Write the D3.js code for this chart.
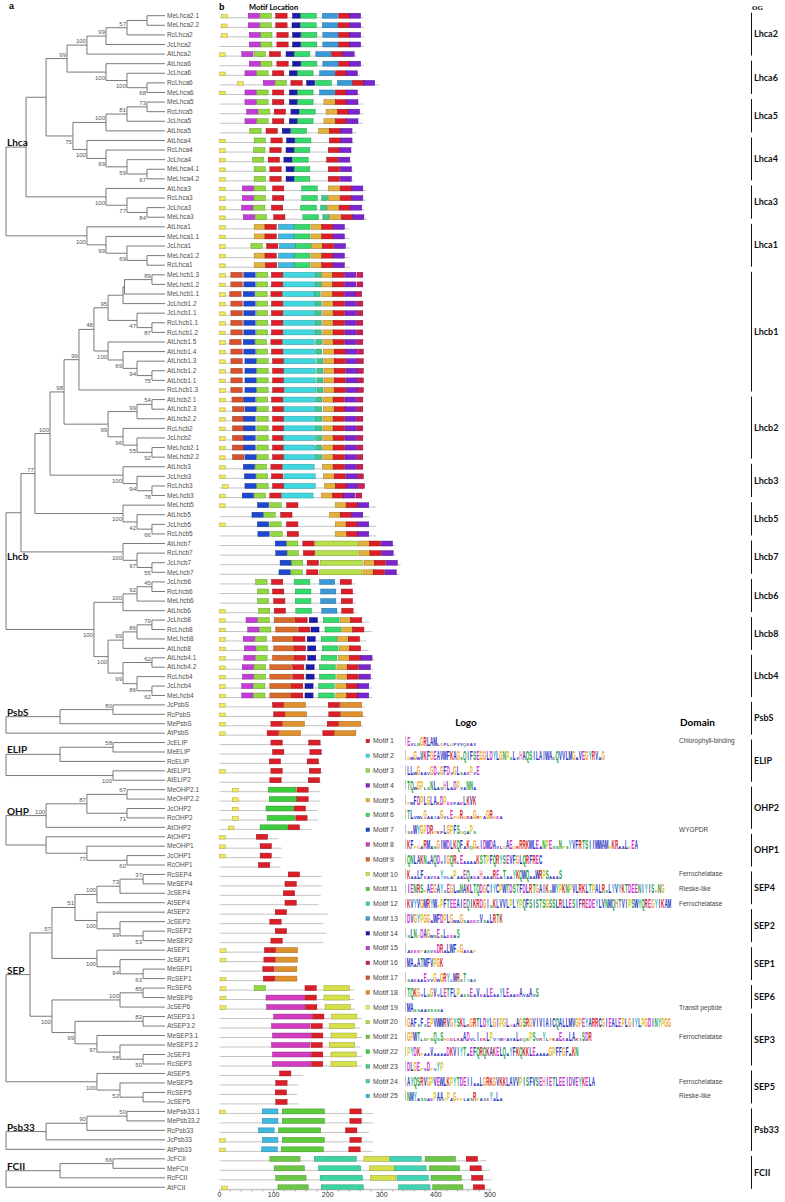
<!DOCTYPE html>
<html><head><meta charset="utf-8">
<script src="https://cdn.jsdelivr.net/npm/d3@7"></script>
<style>body{margin:0;background:#fff}svg{display:block;background:#fff}</style>
</head><body><svg id="c" width="785" height="1202"></svg>
<script>
// ---------------- DATA ----------------
// Tree clades: "(children)bootstrap:depth" where depth is on a 0-100 scale (tips = 100)
const SEP4 = "(((RcSEP4,MeSEP4)37:86.2,JcSEP4)73:71.7,AtSEP4)100:57.2";
const SEP2 = "(AtSEP2,(JcSEP2,(RcSEP2,MeSEP2)53:86.2)99:71.7)100:57.2";
const SEP1 = "(AtSEP1,(JcSEP1,(MeSEP1,RcSEP1)63:86.2)94:71.7)100:57.2";
const SEP6 = "((RcSEP6,MeSEP6)85:86.2,JcSEP6)100:71.7";
const SEP3 = "((AtSEP3.1,AtSEP3.2)82:86.2,(MeSEP3.1,(MeSEP3.2,(JcSEP3,RcSEP3)50:86.2)58:71.7)97:57.2)99:43.4";
const SEP5 = "(AtSEP5,(MeSEP5,(RcSEP5,JcSEP5):86.2)52:71.7)100:57.2";
const LHCB1a = "(((MeLhcb1.3,MeLhcb1.2)89:91.8,MeLhcb1.1):74.5,JcLhcb1.2):73.6";
const LHCB1d = "(JcLhcb1.1,(RcLhcb1.1,RcLhcb1.2)87:91.8)47:82.4";
const LHCB1g = "(AtLhcb1.5,(AtLhcb1.4,(AtLhcb1.3,(AtLhcb1.2,AtLhcb1.1)75:91.8)94:82.4)69:73.6)100:64.2";
const LHCB2 = "(((AtLhcb2.1,AtLhcb2.3)54:91.8,AtLhcb2.2)99:82.4,(RcLhcb2,(JcLhcb2,(MeLhcb2.1,MeLhcb2.2)92:91.8)55:82.4)96:73.6)99:64.2";
const LHCB3 = "(AtLhcb3,(JcLhcb3,(RcLhcb3,MeLhcb3)78:91.8)94:82.4)100:73.6";
const LHCB5 = "(MeLhcb5,(AtLhcb5,(JcLhcb5,RcLhcb5)66:91.8)42:82.4)100:73.6";
const LHCB7 = "(AtLhcb7,(RcLhcb7,(JcLhcb7,MeLhcb7)55:91.8)97:82.4)100:73.6";
const LHCB6 = "(((JcLhcb6,RcLhcb6)45:91.8,MeLhcb6)92:82.4,AtLhcb6)100:73.6";
const LHCB8 = "(((JcLhcb8,RcLhcb8)79:91.8,MeLhcb8)86:82.4,AtLhcb8)99:73.6";
const LHCB4 = "((AtLhcb4.1,AtLhcb4.2)62:91.8,(RcLhcb4,(JcLhcb4,MeLhcb4)62:91.8)86:82.4)99:73.6";

const familyNames = ["Lhca","Lhcb","PsbS","ELIP","OHP","SEP","Psb33","FCII"];
const familyTrees = [
  "((((((((MeLhca2.1,MeLhca2.2):88.7,RcLhca2)57:76.1,JcLhca2)99:62.9,AtLhca2)100:50.9,(AtLhca6,(JcLhca6,(RcLhca6,MeLhca6)68:88.7)100:76.1)100:62.9)99:38.4,((((MeLhca5,RcLhca5)73:88.7,JcLhca5)81:76.1,AtLhca5)100:62.9,(AtLhca4,(RcLhca4,(JcLhca4,(MeLhca4.1,MeLhca4.2)67:88.7)59:76.1)69:62.9)100:50.9)75:42.1):25.2,(AtLhca3,(RcLhca3,(JcLhca3,MeLhca3)84:88.7)77:76.1)100:62.9):12.6,(AtLhca1,(MeLhca1.1,(JcLhca1,(MeLhca1.2,RcLhca1):88.7)69:76.1)99:62.9)100:50.9):0",
  `((((((((${LHCB1a},${LHCB1d})95:64.2,${LHCB1g})48:55.3,RcLhcb1.3)99:45.9,${LHCB2})98:36.5,${LHCB3})100:27.7,${LHCB5})77:18.2,${LHCB7}):9.4,(${LHCB6},(${LHCB8},${LHCB4})100:64.2)100:55.3):0`,
  "(((JcPsbS,RcPsbS)80:67.3,MePsbS):34,AtPsbS):0",
  "(((JcELIP,MeELIP)58:67.3,RcELIP):34,(AtELIP1,AtELIP2)100:67.3):0",
  "((((MeOHP2.1,MeOHP2.2)67:76.1,(JcOHP2,RcOHP2)71:76.1)87:50.9,AtOHP2)100:25.2,(AtOHP1,(MeOHP1,(JcOHP1,RcOHP1)60:76.1)77:50.9):25.2):0",
  `((((${SEP4},${SEP2})51:43.4,${SEP1})57:28.9,(${SEP6},${SEP3})100:28.9):15.1,${SEP5}):0`,
  "((((MePsb33.1,MePsb33.2)50:76.1,RcPsb33)90:50.9,JcPsb33):25.2,AtPsb33):0",
  "(((JcFCII,MeFCII)66:67.3,RcFCII):34,AtFCII):0"
];
// family label anchor: path of child indices from root, and side
const familyLabelPath = [[0],[0,1],[0],[0],[0],[0],[0],[0]];
const familyLabelSide = ["above","below","above","above","above","above","above","above"];

// motifs
const motifIds = d3.range(1, 26);
const motifLengths = [21,58,21,21,21,29,21,71,40,47,78,78,28,15,21,11,21,40,11,78,56,51,11,58,29];
const motifColors = ["#dc1e28","#40d8e0","#92d843","#7a25d0","#e3b23c","#36d96b","#1f48d0","#d23cc0","#d86a2a","#d6e04a","#5ccc3c","#3cd4a0","#3a9ad8","#1c1caa","#c43cd8","#c81e5a","#d8502c","#e0902c","#f2e85a","#b8e04a","#6cc844","#3ccc3c","#3cc890","#40d4b4","#40b8e0"];
const motifDomains = ["Chlorophyll-binding","","","","","","WYGPDR","","","Ferrochelatase","Rieske-like","Ferrochelatase","","","","","","","Transit peptide","","Ferrochelatase","","","Ferrochelatase","Rieske-like"];
// consensus (upper case = tall letters, lower case = small letters)
const motifLogos = [
  "EvlnGRLAMlgflgfvvqeav",
  "gwGwVKFGEAVWFKAGsQIFSEGGLDYLGNPsLvHAQSILAIWAcQVVLMGaVEGYRVaG",
  "LLwGaavGDvGFDvGLsaePvE",
  "TQwGPlsNLasHLaDPvaNNa",
  "pwFDPLGLAkDPeefaeLKVK",
  "TLvwlGaaiaGvlEpgRgraGrpaGRgea",
  "seWYGPDRpkfLGPFSgqaPs",
  "KFpgaRMasGIWDLKQFaKqGkIDWDAvlgAEgrRRKWLEaNPEssNpsYVFRTSIIWWAMpKRaaLgEA",
  "QNLAKNaAQDvIGQRlEaaaaKSTPFQRYSEVFGLQRFREC",
  "KaaLFeaveaYvlaPaaEQaeaHaaaREaTaaYKQWQaaWRPSaaaS",
  "IENRSpAEGAYsEGLwNAKLTQDGCIYCPWTDSTFDLRTGAIKsWYPKNPVLRKLTPALRsLYVYKTDEENIYIShNG",
  "KVYVGMRYWpPFTEEAIEQIKRDGIsKLVVLPLYPQFSISTSGSSLRLLESIFREDEYLVNMQHTVIPSWYQREGYIKAM",
  "DVGYPGGaWFDPLGwaGsaeecVsaLRTK",
  "sLNpDAGwsEsLeeaS",
  "aeeepasveDRaLWFpGaeap",
  "MAaATMFVPGK",
  "saeaaEvvGwGRYlMRsTyas",
  "TQKGvLsGVvLETFLPassEaVeaLEaaYLEaaeAvaAvS",
  "MAssaassssa",
  "GAFsFsEPVWWRVGYSKLkGRTLDYLGIPGLhaAGSRGVIVIAICQALLMVGPEYARRCGIEALEPLGIYLPGDINYPGG",
  "GPWTlspsQsShgdlkaADvlIekLPvymhavaLeqsPSvrYlpkaEeaLAkiSDR",
  "PYDKpaaVaaaaDKVIYTaEFQRQKAKELQaYFKQKKLEaaaaGPFFGFaKN",
  "DLGEpvDpvYP",
  "AYQSRVGPVEWLKPYTDEIIaaLGRKGVKKLAVVPISFVSEHIETLEEIDVEYKELA",
  "NMYassaePAApPaGpplasRpaseYaLa"
];

// motif rows: [protein, length, "motif:start ..."]
const motifRows = [
 ["MeLhca2.1",267,"19:4 15:53 3:75 1:104 14:135 6:150 13:190 1:220 4:240"],
 ["MeLhca2.2",267,"19:3 15:53 3:75 1:104 14:134 6:150 13:190 1:219 4:240"],
 ["RcLhca2",267,"19:4 15:55 3:76 1:106 14:135 6:151 13:191 1:220 4:240"],
 ["JcLhca2",267,"15:55 3:76 1:106 14:135 6:151 13:191 1:220 4:240"],
 ["AtLhca2",254,"19:0 15:41 3:64 1:92 14:123 6:138 13:178 1:207 4:228"],
 ["AtLhca6",267,"15:55 3:76 1:106 14:135 6:151 13:191 1:220 4:240"],
 ["JcLhca6",260,"19:0 15:47 3:69 1:98 14:129 6:144 13:185 1:214 4:234"],
 ["RcLhca6",295,"19:33 15:81 3:103 1:132 14:161 6:178 13:218 1:246 4:266"],
 ["MeLhca6",260,"19:0 15:47 3:69 1:98 14:129 6:144 13:185 1:214 4:234"],
 ["MeLhca5",265,"15:47 3:69 1:98 14:129 6:144 5:193 1:214 4:235"],
 ["RcLhca5",266,"15:50 3:72 1:101 14:132 6:148 5:197 1:218 4:238"],
 ["JcLhca5",265,"15:47 3:69 1:98 14:129 6:144 5:193 1:214 4:235"],
 ["AtLhca5",254,"3:56 1:86 14:116 6:132 5:183 1:203 4:224"],
 ["AtLhca4",249,"19:0 3:64 1:95 14:124 6:140 1:203 4:224"],
 ["RcLhca4",246,"19:0 3:63 1:93 14:123 6:138 1:201 4:222"],
 ["JcLhca4",244,"19:0 3:61 1:90 14:119 6:135 1:198 4:220"],
 ["MeLhca4.1",247,"19:0 3:64 1:93 14:123 6:138 1:201 4:223"],
 ["MeLhca4.2",247,"19:0 3:64 1:93 14:123 6:138 1:201 4:223"],
 ["AtLhca3",271,"19:0 15:42 3:64 1:98 6:152 5:201 1:223 4:244"],
 ["RcLhca3",271,"19:0 15:42 3:64 1:98 6:152 23:189 5:201 1:223 4:244"],
 ["JcLhca3",268,"19:0 15:41 3:63 1:96 6:150 23:187 5:199 1:221 4:242"],
 ["MeLhca3",273,"19:0 15:44 3:66 1:100 6:154 23:191 5:203 1:225 4:246"],
 ["AtLhca1",240,"19:0 5:64 1:84 25:109 6:138 5:169 1:189 4:210"],
 ["MeLhca1.1",240,"19:0 5:64 1:84 25:109 6:138 5:169 1:189 4:210"],
 ["JcLhca1",242,"19:0 3:58 1:87 25:111 6:140 5:170 1:190 4:212"],
 ["MeLhca1.2",240,"19:0 5:64 1:84 25:109 6:138 5:169 1:189 4:210"],
 ["RcLhca1",241,"19:0 5:64 1:85 25:109 6:138 5:169 1:189 4:210"],
 ["MeLhcb1.3",265,"19:0 17:21 7:45 3:68 1:96 2:118 23:177 5:189 1:209 4:231 16:254"],
 ["MeLhcb1.2",265,"19:0 17:21 7:45 3:68 1:96 2:118 23:177 5:189 1:209 4:231 16:254"],
 ["MeLhcb1.1",264,"19:0 17:19 7:44 3:67 1:95 2:117 23:175 5:189 1:209 4:231 16:252"],
 ["JcLhcb1.2",265,"19:0 17:21 7:45 3:68 1:96 2:118 23:177 5:191 1:210 4:232 16:254"],
 ["JcLhcb1.1",265,"19:0 17:21 7:45 3:68 1:96 2:118 23:177 5:191 1:210 4:232 16:254"],
 ["RcLhcb1.1",265,"19:0 17:21 7:45 3:68 1:96 2:118 23:177 5:191 1:210 4:232 16:254"],
 ["RcLhcb1.2",265,"19:0 17:21 7:45 3:68 1:96 2:118 23:177 5:191 1:210 4:232 16:254"],
 ["AtLhcb1.5",265,"19:0 17:19 7:44 3:66 1:95 2:117 23:178 5:191 1:210 4:232 16:254"],
 ["AtLhcb1.4",266,"19:0 17:21 7:45 3:68 1:96 2:118 23:178 5:192 1:212 4:233 16:255"],
 ["AtLhcb1.3",266,"19:0 17:21 7:47 3:69 1:98 2:119 23:180 5:193 1:212 4:234 16:255"],
 ["AtLhcb1.2",266,"19:0 17:21 7:47 3:69 1:98 2:119 23:180 5:193 1:212 4:234 16:255"],
 ["AtLhcb1.1",266,"19:0 17:21 7:47 3:69 1:98 2:119 23:180 5:193 1:212 4:234 16:255"],
 ["RcLhcb1.3",266,"19:0 17:21 7:47 3:69 1:98 2:120 23:180 5:193 1:212 4:234 16:255"],
 ["AtLhcb2.1",265,"19:0 17:23 7:45 3:68 1:96 2:118 23:178 5:191 1:210 4:232 16:254"],
 ["AtLhcb2.3",265,"19:0 17:24 7:47 3:69 1:98 2:119 23:178 5:192 1:212 4:232 16:254"],
 ["AtLhcb2.2",265,"19:0 17:24 7:45 3:69 1:98 2:119 23:178 5:191 1:210 4:232 16:254"],
 ["RcLhcb2",265,"19:0 17:24 7:45 3:69 1:98 2:119 23:178 5:191 1:210 4:232 16:254"],
 ["JcLhcb2",265,"19:0 17:24 7:45 3:69 1:98 2:118 23:178 5:191 1:210 4:232 16:254"],
 ["MeLhcb2.1",265,"19:0 17:24 7:45 3:69 1:98 2:118 23:178 5:191 1:210 4:232 16:254"],
 ["MeLhcb2.2",265,"19:0 17:24 7:47 3:69 1:98 2:119 23:178 5:191 1:210 4:232 16:254"],
 ["AtLhcb3",264,"19:0 7:44 3:66 1:95 2:117 5:190 1:210 4:232 16:254"],
 ["JcLhcb3",266,"19:0 7:46 3:68 1:96 2:119 5:192 1:212 4:234 16:255"],
 ["RcLhcb3",267,"19:5 7:47 3:69 1:98 2:119 5:194 1:214 4:235 16:257"],
 ["MeLhcb3",262,"19:0 7:42 3:64 1:93 2:115 5:188 1:209 4:229 16:252"],
 ["MeLhcb5",289,"19:0 7:70 3:93 1:124 5:214 1:234 4:255"],
 ["AtLhcb5",278,"7:60 3:82 1:113 5:203 1:223 4:244"],
 ["JcLhcb5",289,"19:0 7:70 3:93 1:124 5:214 1:234 4:255"],
 ["RcLhcb5",290,"7:71 3:95 1:125 5:214 1:235 4:255"],
 ["AtLhcb7",324,"7:103 3:124 1:154 20:177 5:257 1:277 4:299"],
 ["RcLhcb7",326,"7:104 3:125 1:155 20:178 5:258 1:278 4:300"],
 ["JcLhcb7",335,"7:112 3:133 1:162 20:186 5:267 1:286 4:308"],
 ["MeLhcb7",332,"7:110 3:132 1:161 20:185 5:265 1:284 4:306"],
 ["JcLhcb6",252,"3:67 1:96 6:138 13:185 1:223"],
 ["RcLhcb6",253,"3:70 1:98 6:140 13:187 1:225"],
 ["MeLhcb6",253,"3:70 1:100 6:140 13:187 1:225"],
 ["AtLhcb6",255,"19:0 3:72 1:101 6:141 13:189 1:226"],
 ["JcLhcb8",277,"19:0 15:49 3:71 9:101 1:141 14:166 6:192 5:223 1:242"],
 ["RcLhcb8",281,"19:0 15:52 3:74 9:104 1:146 14:169 6:195 5:226 1:246"],
 ["MeLhcb8",272,"19:0 15:44 3:66 9:98 1:137 14:162 6:188 5:218 1:238"],
 ["AtLhcb8",275,"19:0 15:46 3:68 9:100 1:138 14:163 6:190 5:221 1:240"],
 ["AtLhcb4.1",287,"19:0 15:45 3:67 9:98 1:138 14:163 6:188 5:220 1:240 4:261"],
 ["AtLhcb4.2",284,"19:0 15:42 3:64 9:93 1:135 14:160 6:185 5:217 1:236 4:258"],
 ["RcLhcb4",284,"19:0 15:42 3:64 9:93 1:135 14:160 6:185 5:217 1:236 4:258"],
 ["JcLhcb4",282,"19:0 15:41 3:63 9:93 1:133 14:158 6:183 5:215 1:235 4:255"],
 ["MeLhcb4",282,"19:0 15:41 3:63 9:93 1:133 14:158 6:183 5:215 1:235 4:255"],
 ["JcPsbS",269,"19:0 1:98 18:119 1:201 18:223"],
 ["RcPsbS",271,"19:0 1:100 18:121 1:202 18:224"],
 ["MePsbS",266,"19:0 1:95 18:117 1:199 18:221"],
 ["AtPsbS",252,"19:0 1:88 18:110 1:191 18:212"],
 ["JcELIP",189,"1:95 1:165"],
 ["MeELIP",191,"1:98 1:167"],
 ["RcELIP",186,"1:92 1:162"],
 ["AtELIP1",191,"19:0 1:95 1:166"],
 ["AtELIP2",188,"1:93 1:164"],
 ["MeOHP2.1",186,"19:24 22:90 1:143"],
 ["MeOHP2.2",186,"19:24 22:92 1:143"],
 ["JcOHP2",181,"19:24 22:86 1:138"],
 ["RcOHP2",183,"19:24 22:88 1:141"],
 ["AtOHP2",170,"19:16 22:75 1:127"],
 ["AtOHP1",109,"19:0 1:68"],
 ["MeOHP1",115,"19:0 1:75"],
 ["JcOHP1",115,"19:0 1:75"],
 ["RcOHP1",113,"1:72"],
 ["RcSEP4",189,"1:127"],
 ["MeSEP4",189,"1:121"],
 ["JcSEP4",187,"1:118"],
 ["AtSEP4",183,"1:121"],
 ["AtSEP2",200,"1:103"],
 ["JcSEP2",192,"1:93"],
 ["RcSEP2",198,"1:103"],
 ["MeSEP2",192,"1:95"],
 ["AtSEP1",145,"19:1 1:83 18:104"],
 ["JcSEP1",145,"19:1 1:82 18:104"],
 ["MeSEP1",142,"1:80 18:103"],
 ["RcSEP1",144,"19:1 1:81 18:103"],
 ["RcSEP6",249,"19:1 3:64 1:158 10:193"],
 ["MeSEP6",249,"19:1 8:86 1:158 10:193"],
 ["JcSEP6",250,"19:1 8:87 1:159 10:195"],
 ["AtSEP3.1",263,"8:100 1:172 10:207"],
 ["AtSEP3.2",260,"8:96 1:169 10:203"],
 ["MeSEP3.1",263,"8:98 1:170 10:206"],
 ["MeSEP3.2",260,"8:96 1:169 10:203"],
 ["JcSEP3",263,"8:98 1:170 10:206"],
 ["RcSEP3",263,"8:98 1:170 10:206"],
 ["AtSEP5",155,"1:111"],
 ["MeSEP5",146,"1:104"],
 ["RcSEP5",144,"1:103"],
 ["JcSEP5",146,"1:104"],
 ["MePsb33.1",284,"19:0 25:79 11:116 1:241"],
 ["MePsb33.2",284,"25:79 11:116 1:241"],
 ["RcPsb33",276,"25:72 11:109 1:233"],
 ["JcPsb33",284,"19:0 25:79 11:116 1:241"],
 ["AtPsb33",283,"19:0 25:78 11:114 1:239"],
 ["JcFCII",493,"21:93 12:175 10:267 24:315 21:380 1:456"],
 ["MeFCII",500,"21:101 12:183 10:277 24:324 21:388 1:463"],
 ["RcFCII",503,"21:104 12:186 10:279 24:328 21:391 1:466"],
 ["AtFCII",503,"19:4 21:108 12:188 24:331 21:394 1:469"]
];

const axisTicks = [0,100,200,300,400,500];
const axisMinor = d3.range(0, 501, 20);

const ogNames = ["Lhca2","Lhca6","Lhca5","Lhca4","Lhca3","Lhca1","Lhcb1","Lhcb2","Lhcb3","Lhcb5","Lhcb7","Lhcb6","Lhcb8","Lhcb4","PsbS","ELIP","OHP2","OHP1","SEP4","SEP2","SEP1","SEP6","SEP3","SEP5","Psb33","FCII"];
const ogFirst = ["MeLhca2.1","AtLhca6","MeLhca5","AtLhca4","AtLhca3","AtLhca1","MeLhcb1.3","AtLhcb2.1","AtLhcb3","MeLhcb5","AtLhcb7","JcLhcb6","JcLhcb8","AtLhcb4.1","JcPsbS","JcELIP","MeOHP2.1","AtOHP1","RcSEP4","AtSEP2","AtSEP1","RcSEP6","AtSEP3.1","AtSEP5","MePsb33.1","JcFCII"];
const ogLast = ["AtLhca2","MeLhca6","AtLhca5","MeLhca4.2","MeLhca3","RcLhca1","RcLhcb1.3","MeLhcb2.2","MeLhcb3","RcLhcb5","MeLhcb7","AtLhcb6","AtLhcb8","MeLhcb4","AtPsbS","AtELIP2","AtOHP2","RcOHP1","AtSEP4","MeSEP2","RcSEP1","JcSEP6","RcSEP3","JcSEP5","AtPsb33","AtFCII"];

// ---------------- DRAW ----------------
const svg = d3.select("#c");
const SANS = "'Liberation Sans', Arial, sans-serif";
const BOLD = "Lato, 'Open Sans', sans-serif";

const yLeaf = d3.scaleLinear().domain([0, 62, 93, 123]).range([15.7, 610.7, 902.7, 1187.3]);
const xTree = d3.scaleLinear().domain([0, 100]).range([6, 165]);
const xMotif = d3.scaleLinear().domain([0, 500]).range([219.5, 490]);

function parseNewick(str) {
  let i = 0;
  const tok = stop => { let t = ""; while (i < str.length && !stop.includes(str[i])) t += str[i++]; return t; };
  function node() {
    const n = {children: []};
    if (str[i] === "(") {
      i++;
      n.children.push(node());
      while (str[i] === ",") { i++; n.children.push(node()); }
      i++;
      n.bs = tok(":,()");
      if (str[i] === ":") { i++; n.depth = +tok(",()"); }
    } else {
      n.name = tok(":,()");
      n.depth = 100;
    }
    return n;
  }
  return node();
}

const leafY = {};
let leafCounter = 0;
const gTree = svg.append("g");
const treeColor = "#6a6a6a";

familyTrees.forEach((nw, fi) => {
  const root = parseNewick(nw);
  (function assign(n) {
    if (!n.children.length) { n.y = yLeaf(leafCounter++); leafY[n.name] = n.y; }
    else { n.children.forEach(assign); n.y = (n.children[0].y + n.children[n.children.length - 1].y) / 2; }
  })(root);

  (function draw(n) {
    if (!n.children.length) {
      gTree.append("text").attr("x", xTree(100) + 2).attr("y", n.y + 2.2)
        .attr("font-family", SANS).attr("font-size", 6.5).attr("fill", "#505050").text(n.name);
      return;
    }
    const x = xTree(n.depth);
    const c0 = n.children[0], c1 = n.children[n.children.length - 1];
    gTree.append("line").attr("x1", x).attr("x2", x).attr("y1", c0.y).attr("y2", c1.y)
      .attr("stroke", treeColor).attr("stroke-width", 0.9);
    n.children.forEach((c, ci) => {
      gTree.append("line").attr("x1", x).attr("x2", xTree(c.depth)).attr("y1", c.y).attr("y2", c.y)
        .attr("stroke", treeColor).attr("stroke-width", 0.9);
      if (c.children.length && c.bs) {
        gTree.append("text").attr("x", xTree(c.depth) - 1)
          .attr("y", ci === 0 ? c.y - 2 : c.y + 7.8)
          .attr("text-anchor", "end").attr("font-family", SANS).attr("font-size", 6)
          .attr("fill", "#555").text(c.bs);
      }
      draw(c);
    });
  })(root);

  // family label
  let a = root; familyLabelPath[fi].forEach(k => a = a.children[k]);
  gTree.append("text").attr("x", 7)
    .attr("y", familyLabelSide[fi] === "above" ? a.y - 1 : a.y + 8.5)
    .attr("font-family", BOLD).attr("font-weight", 700).attr("font-size", 10).attr("fill", "#111")
    .text(familyNames[fi]);
});

// panel letters
svg.append("text").attr("x", 9).attr("y", 9).attr("font-family", SANS).attr("font-weight", 700)
  .attr("font-size", 9).text("a");
svg.append("text").attr("x", 219).attr("y", 10).attr("font-family", SANS).attr("font-weight", 700)
  .attr("font-size", 9).text("b");
svg.append("text").attr("x", 249).attr("y", 10).attr("font-family", BOLD).attr("font-weight", 700)
  .attr("font-size", 7.5).text("Motif Location");

// motif rows
const gM = svg.append("g");
motifRows.forEach(([name, len, spec]) => {
  const y = leafY[name];
  gM.append("line").attr("x1", xMotif(0)).attr("x2", xMotif(len)).attr("y1", y + 2).attr("y2", y + 2)
    .attr("stroke", "#c4c4c4").attr("stroke-width", 1);
  spec.split(" ").forEach(p => {
    const [m, s] = p.split(":").map(Number);
    const col = motifColors[m - 1];
    const small = m === 19;
    gM.append("rect").attr("x", xMotif(s)).attr("y", small ? y - 1.3 : y - 2.5)
      .attr("width", xMotif(s + motifLengths[m - 1]) - xMotif(s)).attr("height", small ? 3.6 : 5)
      .attr("fill", col).attr("stroke", d3.color(col).darker(1.1)).attr("stroke-width", 0.45);
  });
});

// axis
const axisY = 1190;
gM.append("line").attr("x1", xMotif(0)).attr("x2", xMotif(500)).attr("y1", axisY).attr("y2", axisY)
  .attr("stroke", "#bbb").attr("stroke-width", 0.6);
axisMinor.forEach(t => gM.append("line").attr("x1", xMotif(t)).attr("x2", xMotif(t))
  .attr("y1", axisY).attr("y2", axisY + (t % 100 === 0 ? 2.5 : 1.5)).attr("stroke", "#777").attr("stroke-width", 0.6));
axisTicks.forEach(t => gM.append("text").attr("x", xMotif(t)).attr("y", axisY + 6.8).attr("text-anchor", "middle")
  .attr("font-family", SANS).attr("font-size", 7).attr("fill", "#333").text(t));

// legend + logos
const legY = d3.scaleLinear().domain([0, 24]).range([741, 1096]);
const gL = svg.append("g");
gL.append("text").attr("x", 466).attr("y", 726).attr("text-anchor", "middle").attr("font-family", BOLD)
  .attr("font-weight", 700).attr("font-size", 10).text("Logo");
gL.append("text").attr("x", 680).attr("y", 726).attr("font-family", BOLD)
  .attr("font-weight", 700).attr("font-size", 10).text("Domain");

const aaColor = {A:"#1c2fbf",C:"#1c2fbf",F:"#1c2fbf",I:"#1c2fbf",L:"#1c2fbf",V:"#1c2fbf",W:"#1c2fbf",M:"#1c2fbf",
  N:"#1a9e3a",Q:"#1a9e3a",S:"#1a9e3a",T:"#1a9e3a",D:"#cc33cc",E:"#cc33cc",K:"#d42a2a",R:"#d42a2a",
  H:"#f08aa0",G:"#f0a030",P:"#d8c818",Y:"#30b8b8",X:"#999"};
const colW = 3.3, sx = 0.36;
motifIds.forEach((id, i) => {
  const y = legY(i);
  const col = motifColors[i];
  gL.append("rect").attr("x", 366).attr("y", y - 1.8).attr("width", 3.6).attr("height", 3.6)
    .attr("fill", col).attr("stroke", d3.color(col).darker(1)).attr("stroke-width", 0.4);
  gL.append("text").attr("x", 373).attr("y", y + 2.4).attr("font-family", SANS).attr("font-size", 7)
    .attr("fill", "#444").text("Motif " + id);
  // logo: tall letters in one text (horizontally compressed), small letters in another
  const x0 = 407;
  gL.append("line").attr("x1", x0 - 1.5).attr("x2", x0 - 1.5).attr("y1", y - 5.5).attr("y2", y + 4.5)
    .attr("stroke", "#888").attr("stroke-width", 0.5);
  const letters = motifLogos[i].split("").map((ch, j) => ({L: ch.toUpperCase(), tall: ch === ch.toUpperCase(), j}));
  const tall = gL.append("text").attr("transform", `translate(${x0},${y + 4.5}) scale(${sx},1)`)
    .attr("font-family", SANS).attr("font-weight", 700).attr("font-size", 12.5).attr("text-anchor", "middle");
  letters.filter(d => d.tall).forEach(d => tall.append("tspan")
    .attr("x", (d.j * colW + colW / 2) / sx).attr("y", 0).attr("fill", aaColor[d.L] || "#999").text(d.L));
  const small = gL.append("text").attr("transform", `translate(${x0},${y + 4.5})`)
    .attr("font-family", SANS).attr("font-weight", 700).attr("font-size", 4.2).attr("text-anchor", "middle");
  letters.filter(d => !d.tall).forEach(d => small.append("tspan")
    .attr("x", d.j * colW + colW / 2).attr("y", 0).attr("fill", aaColor[d.L] || "#999").text(d.L));
  if (motifDomains[i]) {
    gL.append("text").attr("x", 679).attr("y", y + 2.3).attr("font-family", SANS).attr("font-size", 6.5)
      .attr("fill", "#444").text(motifDomains[i]);
  }
});

// OG brackets
const gO = svg.append("g");
gO.append("text").attr("x", 752).attr("y", 10).attr("font-family", "'Liberation Serif', 'Times New Roman', serif")
  .attr("font-weight", 700).attr("font-size", 7).text("OG");
ogNames.forEach((nm, i) => {
  const y1 = leafY[ogFirst[i]] - 3, y2 = leafY[ogLast[i]] + 1.5;
  gO.append("line").attr("x1", 751.5).attr("x2", 751.5).attr("y1", y1).attr("y2", y2)
    .attr("stroke", "#111").attr("stroke-width", 1);
  gO.append("text").attr("x", 754).attr("y", (y1 + y2) / 2 + 3.2).attr("font-family", BOLD)
    .attr("font-weight", 700).attr("font-size", 9).attr("fill", "#111").text(nm);
});
</script></body></html>
